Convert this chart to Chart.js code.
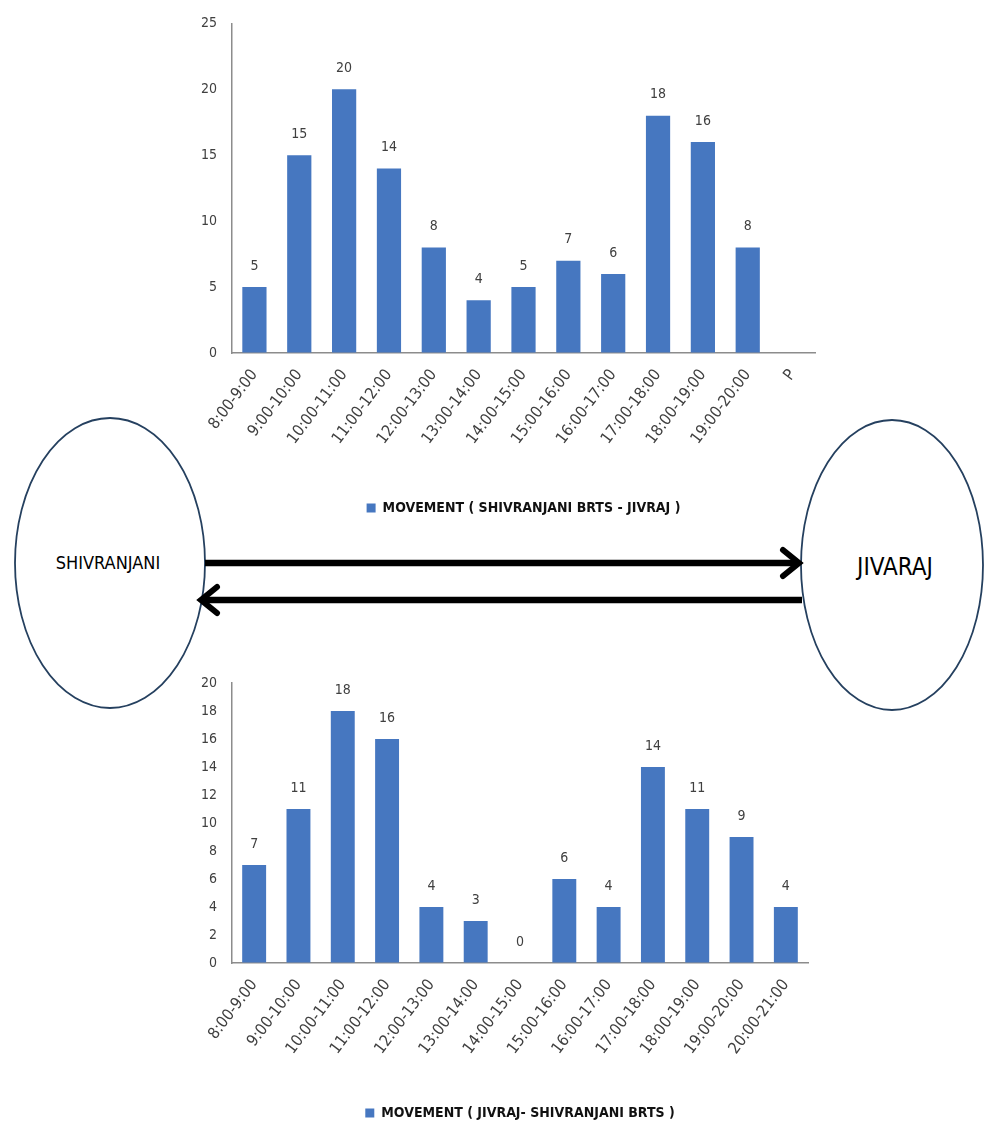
<!DOCTYPE html>
<html>
<head>
<meta charset="utf-8">
<script src="https://cdn.jsdelivr.net/npm/chart.js@4.4.1/dist/chart.umd.min.js"></script>
<style>
html,body{margin:0;padding:0;background:#fff;}
#page{position:relative;width:984px;height:1125px;overflow:hidden;background:#fff;}
#diagram{position:absolute;left:0;top:0;}
.cw{position:absolute;left:0;width:984px;}
.lbl{position:absolute;font-family:'Liberation Sans Narrow','DejaVu Sans Condensed','Arial Narrow',sans-serif;color:#000;transform:translate(-50%,-50%);white-space:nowrap;}
</style>
</head>
<body>
<div id="page">
  <svg id="diagram" width="984" height="1125">
    <ellipse cx="110" cy="563" rx="95" ry="145" fill="none" stroke="#25405f" stroke-width="1.8"/>
    <ellipse cx="892" cy="565" rx="91" ry="145" fill="none" stroke="#25405f" stroke-width="1.8"/>
    <line x1="205" y1="563" x2="797" y2="563" stroke="#000" stroke-width="6.5"/>
    <polyline points="783,550 799,563 783,576" fill="none" stroke="#000" stroke-width="6" stroke-linecap="round"/>
    <line x1="802" y1="600" x2="203" y2="600" stroke="#000" stroke-width="6.5"/>
    <polyline points="217,587 201,600 217,613" fill="none" stroke="#000" stroke-width="6" stroke-linecap="round"/>
  </svg>
  <div class="cw" style="top:0;height:540px"><canvas id="c1"></canvas></div>
  <div class="cw" style="top:640px;height:500px"><canvas id="c2"></canvas></div>
  <div class="lbl" style="left:108px;top:562px;font-size:18px">SHIVRANJANI</div>
  <div class="lbl" style="left:895px;top:567px;font-size:24px">JIVARAJ</div>
</div>
<script>
// ---- data ----
const topCategories = ['8:00-9:00','9:00-10:00','10:00-11:00','11:00-12:00','12:00-13:00','13:00-14:00','14:00-15:00','15:00-16:00','16:00-17:00','17:00-18:00','18:00-19:00','19:00-20:00','P'];
const topValues = [5,15,20,14,8,4,5,7,6,18,16,8,null];
const topSeriesName = 'MOVEMENT ( SHIVRANJANI BRTS - JIVRAJ )';
const topYTicks = [0,5,10,15,20,25];

const bottomCategories = ['8:00-9:00','9:00-10:00','10:00-11:00','11:00-12:00','12:00-13:00','13:00-14:00','14:00-15:00','15:00-16:00','16:00-17:00','17:00-18:00','18:00-19:00','19:00-20:00','20:00-21:00'];
const bottomValues = [7,11,18,16,4,3,0,6,4,14,11,9,4];
const bottomSeriesName = 'MOVEMENT ( JIVRAJ- SHIVRANJANI BRTS )';
const bottomYTicks = [0,2,4,6,8,10,12,14,16,18,20];

// ---- style ----
const FAM = "'Liberation Sans Narrow','DejaVu Sans Condensed','Arial Narrow',sans-serif";
const BAR = '#4677c0';
const AXIS = '#8c8c8c';
const TXT = '#404040';

const valueLabels = {
  id: 'valueLabels',
  afterDatasetsDraw(chart) {
    const ctx = chart.ctx;
    chart.data.datasets.forEach((ds, i) => {
      const meta = chart.getDatasetMeta(i);
      meta.data.forEach((bar, j) => {
        const v = ds.data[j];
        if (v === null || v === undefined) return;
        ctx.save();
        ctx.font = '14px ' + FAM;
        ctx.fillStyle = TXT;
        ctx.textAlign = 'center';
        ctx.textBaseline = 'middle';
        ctx.fillText(String(v), bar.x, bar.y - 21);
        ctx.restore();
      });
    });
  }
};

function makeChart(id, cats, vals, name, yTicks, pad, xHeight) {
  const yMax = yTicks[yTicks.length - 1];
  const step = yTicks[1] - yTicks[0];
  return new Chart(document.getElementById(id), {
    type: 'bar',
    data: {
      labels: cats,
      datasets: [{
        label: name,
        data: vals,
        backgroundColor: BAR,
        borderWidth: 0,
        barPercentage: 0.54,
        categoryPercentage: 1.0
      }]
    },
    options: {
      responsive: true,
      maintainAspectRatio: false,
      animation: false,
      layout: { padding: pad },
      plugins: {
        tooltip: { enabled: false },
        legend: {
          position: 'bottom',
          fullSize: false,
          labels: {
            boxWidth: 9, boxHeight: 9, padding: 10,
            color: '#111',
            font: { family: FAM, size: 14, weight: 'bold' }
          }
        }
      },
      scales: {
        x: {
          grid: { display: true, drawOnChartArea: false, drawTicks: false },
          border: { color: AXIS, width: 1.5 },
          ticks: {
            autoSkip: false, minRotation: 53, maxRotation: 53, padding: 13,
            color: TXT, font: { family: FAM, size: 16 }
          },
          afterFit(s) { s.height = xHeight; }
        },
        y: {
          min: 0, max: yMax,
          grid: { display: true, drawOnChartArea: false, drawTicks: false },
          border: { color: AXIS, width: 1.5 },
          ticks: { stepSize: step, padding: 15, color: TXT, font: { family: FAM, size: 14 } },
          afterFit(s) { s.width = 42; }
        }
      }
    },
    plugins: [valueLabels]
  });
}

makeChart('c1', topCategories, topValues, topSeriesName, topYTicks,
  { left: 190, right: 169, top: 16, bottom: 15 }, 138);
makeChart('c2', bottomCategories, bottomValues, bottomSeriesName, bottomYTicks,
  { left: 190, right: 176, top: 43, bottom: 10 }, 133);
</script>
</body>
</html>
